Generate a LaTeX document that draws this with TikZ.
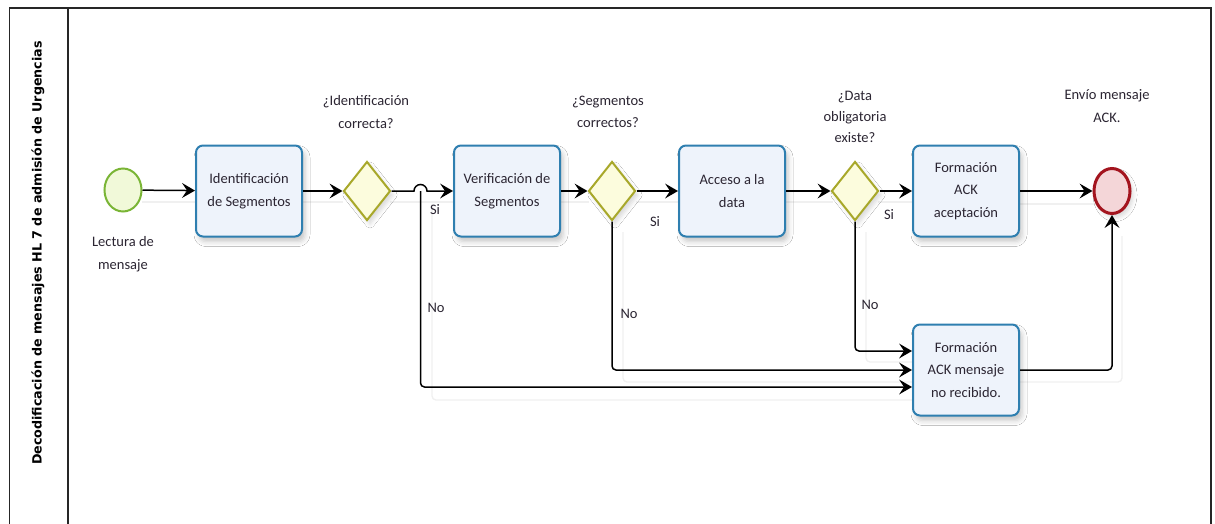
\documentclass[tikz,border=0pt]{standalone}
\usepackage{fontspec}
\setmainfont{Carlito}
\newfontfamily\lanefont{DejaVu Sans}
\usetikzlibrary{arrows.meta,shapes.geometric,shadows.blur}

\definecolor{taskblue}{HTML}{2F7FB0}
\definecolor{taskfill}{HTML}{EEF3FB}
\definecolor{startgreen}{HTML}{7AB536}
\definecolor{startfill}{HTML}{F1F9D9}
\definecolor{gateolive}{HTML}{A8A82A}
\definecolor{gatefill}{HTML}{FCFCDD}
\definecolor{endred}{HTML}{A3141E}
\definecolor{endfill}{HTML}{F4D6D8}
\definecolor{ink}{HTML}{2B2532}

\tikzset{
  x=1pt, y=-1pt,
  lbl/.style={font=\fontsize{14.5}{22.5}\selectfont, text=ink, align=center, inner sep=0pt},
  task/.style={draw=taskblue, line width=2pt, rounded corners=7pt, fill=taskfill,
    minimum width=106pt, minimum height=91pt, align=center, text=ink,
    font=\fontsize{14.5}{22.5}\selectfont,
    blur shadow={shadow xshift=3pt, shadow yshift=-5pt, shadow blur radius=5pt, shadow opacity=22}},
  gateway/.style={diamond, draw=gateolive, line width=2pt, fill=gatefill,
    minimum width=47pt, minimum height=59pt, inner sep=0pt,
    blur shadow={shadow xshift=3pt, shadow yshift=-4pt, shadow blur radius=4pt, shadow opacity=15}},
  startev/.style={ellipse, draw=startgreen, line width=2pt, fill=startfill,
    minimum width=37pt, minimum height=43pt, inner sep=0pt},
  endev/.style={ellipse, draw=endred, line width=3pt, fill=endfill,
    minimum width=36pt, minimum height=45pt, inner sep=0pt,
    blur shadow={shadow xshift=3pt, shadow yshift=-4pt, shadow blur radius=4pt, shadow opacity=15}},
  tip/.tip={Stealth[length=13pt, width=15pt, inset=5pt, line width=0pt]},
  flow/.style={line width=1.5pt, draw=black, -tip},
  elbow/.style={flow, rounded corners=4pt},
  ghost/.style={line width=1.3pt, draw=black!6, rounded corners=4pt},
  frame/.style={line width=1.5pt, draw=black!85}
}

\begin{document}
\begin{tikzpicture}
\useasboundingbox (0,0) rectangle (1215,523);
\fill[white] (0,0) rectangle (1215,523);

% pool frame and lane header
\draw[frame] (9.5,530) -- (9.5,8) -- (1211,8) -- (1211,530);
\draw[frame] (68,8) -- (68,530);
\node[rotate=90, text=black, font=\lanefont\bfseries\fontsize{12.7}{15}\selectfont] (lane) at (38,253)
  {Decodificación de mensajes HL 7 de admisión de Urgencias};

% faint connector shadows
\draw[ghost] (142,202) -- (196,202);
\draw[ghost] (302,202) -- (343,202);
\draw[ghost] (390,202) -- (455,202);
\draw[ghost] (559,202) -- (589,202);
\draw[ghost] (636,202) -- (680,202);
\draw[ghost] (785,202) -- (833,202);
\draw[ghost] (878,202) -- (913,202);
\draw[ghost] (1018,204) -- (1094,204);
\draw[ghost] (432,204) -- (432,400) -- (913,400);
\draw[ghost] (623,232) -- (623,382) -- (913,382);
\draw[ghost] (866,232) -- (866,362) -- (913,362);
\draw[ghost] (1018,382) -- (1122,382) -- (1122,236);

% events, tasks and gateways
\node[startev] (start) at (123,190) {};
\node[task] (b1) at (249,191) {Identificación\\de Segmentos};
\node[gateway] (g1) at (367,191) {};
\node[task] (b2) at (507,191) {Verificación de\\Segmentos};
\node[gateway] (g2) at (612,191) {};
\node[task] (b3) at (732,191) {Acceso a la\\data};
\node[gateway] (g3) at (855,191) {};
\node[task] (b4) at (966,191) {Formación\\ACK\\aceptación};
\node[endev] (end) at (1112,191) {};
\node[task] (b5) at (966,370) {Formación\\ACK mensaje\\no recibido.};

% labels
\node[lbl] (tstart) at (123,254) {Lectura de\\mensaje};
\node[lbl] (tg1) at (366,112) {¿Identificación\\correcta?};
\node[lbl] (tg2) at (608,112) {¿Segmentos\\correctos?};
\node[lbl, font=\fontsize{14.5}{21}\selectfont] (tg3) at (855,117) {¿Data\\obligatoria\\existe?};
\node[lbl] (tend) at (1107,106) {Envío mensaje\\ACK.};

% sequence flows
\draw[flow] (start) -- (b1);
\draw[flow] (b1) -- (g1);
\draw[flow] (g1.east) -- (414,191) arc[start angle=180, end angle=0, radius=6.5pt] -- (b2.west);
\draw[flow] (b2) -- (g2);
\draw[flow] (g2) -- (b3);
\draw[flow] (b3) -- (g3);
\draw[flow] (g3) -- (b4);
\draw[flow] (b4) -- (end);

\coordinate (n1) at (420.5,191);
\draw[elbow] (n1) |- ([yshift=-17pt]b5.west);
\draw[elbow] (g2.south) |- (b5.west);
\draw[elbow] (g3.south) |- ([yshift=19pt]b5.west);
\draw[elbow] (b5.east) -| (end.south);

% branch labels
\node[lbl] (si1) at (435,210) {Si};
\node[lbl] (si2) at (655,222) {Si};
\node[lbl] (si3) at (889,215) {Si};
\node[lbl] (no1) at (436,308) {No};
\node[lbl] (no2) at (629,314) {No};
\node[lbl] (no3) at (870,305) {No};
\end{tikzpicture}
\end{document}
